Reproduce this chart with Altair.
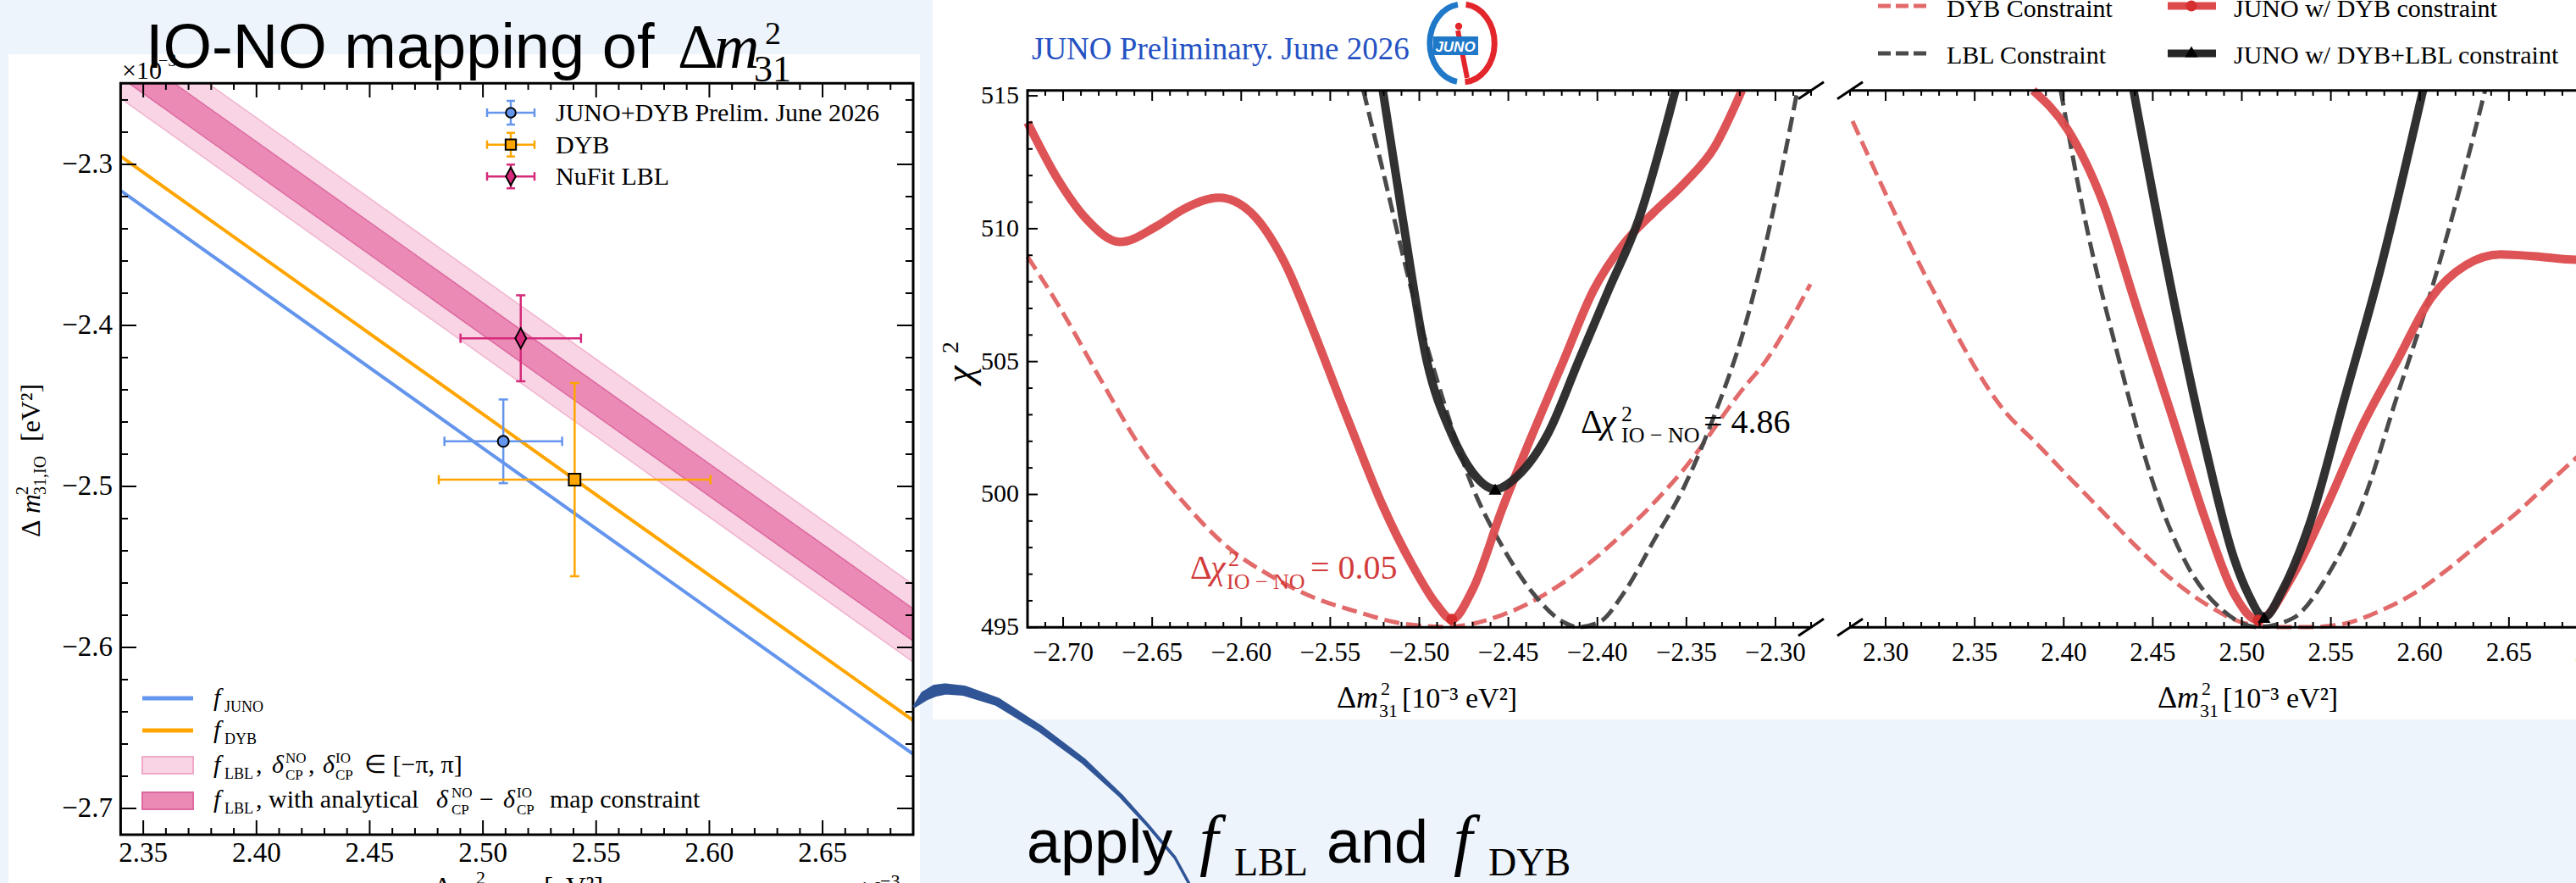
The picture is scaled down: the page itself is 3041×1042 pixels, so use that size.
import altair as alt
import numpy as np
import pandas as pd

W, H = 3041, 1042
SERIF = "Liberation Serif"
SANS = "Liberation Sans"
BG = "#edf4fb"

# ---------------- left panel data (units of 1e-3 eV^2) ----------------
line_x = [2.34, 2.69]
f_juno_y = [-2.3163, -2.6663]
f_dyb_y = [-2.2950, -2.6453]

lbl_wide_x = [2.34, 2.3785, 2.69]
lbl_wide_hi = [-2.2110, -2.2495, -2.5610]
lbl_wide_lo = [-2.2590, -2.2975, -2.6090]
lbl_map_x = [2.3436, 2.3636, 2.69]
lbl_map_hi = [-2.2296, -2.2496, -2.5760]
lbl_map_lo = [-2.2496, -2.2696, -2.5960]

pt_name = ["JUNO+DYB Prelim. June 2026", "DYB", "NuFit LBL"]
pt_x = [2.5090, 2.5405, 2.5167]
pt_y = [-2.4720, -2.4958, -2.4080]
pt_xerr = [0.0260, 0.0600, 0.0266]
pt_yerr = [0.0260, 0.0600, 0.0267]
pt_color = ["#6495ed", "#ffa500", "#d62a7a"]

L_xmajor = [2.35, 2.40, 2.45, 2.50, 2.55, 2.60, 2.65]
L_xlabels = ["2.35", "2.40", "2.45", "2.50", "2.55", "2.60", "2.65"]
L_ymajor = [-2.7, -2.6, -2.5, -2.4, -2.3]
L_ylabels = ["\u22122.7", "\u22122.6", "\u22122.5", "\u22122.4", "\u22122.3"]

# ---------------- right panel data (chi^2 curves) ----------------
io_red_x = [-2.72, -2.7029, -2.687, -2.668, -2.6473, -2.6314, -2.6124, -2.5949, -2.5759, -2.5597,
            -2.5441, -2.5379, -2.5209, -2.5040, -2.4904, -2.4818, -2.4702, -2.4532,
            -2.4362, -2.4192, -2.4022, -2.3852, -2.3681, -2.3512, -2.3343, -2.3189]
io_red_y = [514.0, 511.85, 510.37, 509.50, 510.10, 510.77, 511.17, 510.63, 508.76, 506.2,
            503.5, 502.45, 499.63, 497.35, 495.87, 495.3, 496.4, 499.5,
            502.31, 505.0, 507.68, 509.43, 510.63, 511.71, 513.06, 515.2]

io_black_x = [-2.5205, -2.5093, -2.4957, -2.4821, -2.4702, -2.4574, -2.4448, -2.4276, -2.4107,
              -2.3938, -2.3767, -2.3562]
io_black_y = [515.2, 510.37, 505.0, 502.31, 500.84, 500.2, 500.7, 502.31, 505.0, 507.68, 510.37, 515.2]

io_lbl_x = [-2.5314, -2.5212, -2.5043, -2.4871, -2.4702, -2.4532, -2.4362, -2.4192, -2.4107,
            -2.3988, -2.3852, -2.3681, -2.3512, -2.3343, -2.3171, -2.3001, -2.2900, -2.2877]
io_lbl_y = [515.2, 512.39, 507.68, 503.66, 500.3, 498.02, 496.29, 495.2, 495.01,
            495.2, 496.29, 498.29, 500.3, 502.98, 506.34, 511.04, 514.4, 515.2]

io_dyb_x = [-2.72, -2.7029, -2.679, -2.6552, -2.6314, -2.6076, -2.5838, -2.56, -2.5362, -2.51,
            -2.485, -2.4533, -2.4192, -2.3852, -2.3512, -2.3171, -2.3076, -2.2804]
io_dyb_y = [508.95, 507.15, 504.33, 501.64, 499.63, 498.02, 496.95, 496.14, 495.61, 495.15,
            495.02, 495.47, 496.68, 498.56, 500.97, 504.07, 504.83, 507.91]

no_red_x = [2.3828, 2.4022, 2.4217, 2.4411, 2.4606, 2.48, 2.4955, 2.5092, 2.5286, 2.5481,
            2.5676, 2.587, 2.6065, 2.6259, 2.6454, 2.6648, 2.6878, 2.72]
no_red_y = [515.2, 513.73, 511.04, 507.01, 502.99, 498.96, 496.28, 495.27, 496.95, 499.63,
            502.58, 505.0, 507.41, 508.63, 509.03, 508.96, 508.83, 508.9]

no_black_x = [2.4392, 2.4606, 2.48, 2.4955, 2.5034, 2.5125, 2.5229, 2.5384, 2.5579, 2.5773, 2.6017]
no_black_y = [515.2, 507.68, 501.65, 497.62, 496.28, 495.38, 496.41, 498.96, 503.66, 508.35, 515.2]

no_lbl_x = [2.3983, 2.4119, 2.4313, 2.4508, 2.4703, 2.4898, 2.5092, 2.5286, 2.5481, 2.5676,
            2.587, 2.6064, 2.6259, 2.6366]
no_lbl_y = [515.2, 510.37, 505.0, 500.3, 497.22, 495.61, 495.01, 495.34, 496.95, 499.63,
            503.66, 507.68, 512.39, 515.2]

no_dyb_x = [2.2814, 2.3257, 2.3685, 2.3828, 2.4022, 2.4217, 2.4411, 2.4606, 2.48, 2.4995,
            2.5189, 2.5384, 2.5579, 2.5773, 2.5968, 2.6163, 2.6357, 2.6552, 2.6745, 2.6878, 2.72]
no_dyb_y = [514.05, 507.8, 503.0, 502.05, 500.7, 499.36, 498.02, 496.81, 495.87, 495.2,
            495.01, 495.01, 495.14, 495.61, 496.28, 497.22, 498.29, 499.36, 500.57, 501.38, 503.3]

min_io_red = (-2.4818, 495.3)
min_io_black = (-2.4574, 500.2)
min_no_red = (2.5092, 495.27)
min_no_black = (2.5125, 495.38)

R1_xmajor = [-2.70, -2.65, -2.60, -2.55, -2.50, -2.45, -2.40, -2.35, -2.30]
R1_xlabels = ["\u22122.70", "\u22122.65", "\u22122.60", "\u22122.55", "\u22122.50", "\u22122.45",
              "\u22122.40", "\u22122.35", "\u22122.30"]
R2_xmajor = [2.30, 2.35, 2.40, 2.45, 2.50, 2.55, 2.60, 2.65, 2.70]
R2_xlabels = ["2.30", "2.35", "2.40", "2.45", "2.50", "2.55", "2.60", "2.65", "2.70"]
RY_major = [495, 500, 505, 510, 515]
RY_labels = ["495", "500", "505", "510", "515"]

# decorative connector arrow on the slide (pixel path)
arrow_px = [1080, 1092, 1104, 1116, 1138, 1177, 1228, 1279, 1323, 1355, 1387, 1405]
arrow_py = [833, 821, 815, 813, 815, 828, 860, 898, 939, 974, 1012, 1045]
arrow_w = [4, 12, 14, 13, 12, 10, 8, 7, 5, 4, 3.5, 3.5]


def minor(lo, hi, step, majors):
    vals = np.round(np.arange(lo, hi + step / 2, step), 4)
    return [float(v) for v in vals if all(abs(v - m) > 1e-6 for m in majors)]


ONE = pd.DataFrame({"a": [0]})


def sc(dom, rng, clamp=False):
    return alt.Scale(domain=dom, range=rng, nice=False, zero=False, clamp=clamp)


LX = sc([2.34, 2.69], [142.4, 1078])
LY = sc([-2.7163, -2.2496], [985, 98.2])
LYc = sc([-2.7163, -2.2496], [985, 98.2], clamp=True)
R1X = sc([-2.72, -2.28], [1213, 2138])
R2X = sc([2.28, 2.72], [2184, 3109])
RY = sc([495, 515.2], [740.3, 106.8])
PX = sc([0, W], [0, W])
PY = sc([0, H], [0, H])


def txt(s, x, y, size, font=SERIF, style="normal", color="black", align="left",
        baseline="alphabetic", angle=None, weight="normal"):
    mk = dict(font=font, fontSize=size, fontStyle=style, color=color, align=align,
              baseline=baseline, fontWeight=weight)
    if angle is not None:
        mk["angle"] = angle
    return alt.Chart(ONE).mark_text(**mk).encode(x=alt.value(x), y=alt.value(y), text=alt.value(s))


def box(x1, y1, x2, y2, fill, stroke=None, sw=0, fo=1.0):
    mk = dict(fill=fill, fillOpacity=fo)
    if stroke:
        mk.update(stroke=stroke, strokeWidth=sw)
    else:
        mk.update(strokeWidth=0)
    return alt.Chart(ONE).mark_rect(**mk).encode(
        x=alt.value(x1), x2=alt.value(x2), y=alt.value(y1), y2=alt.value(y2))


def seg(x1, y1, x2, y2, color="black", w=2.0, dash=None):
    mk = dict(color=color, strokeWidth=w)
    if dash:
        mk["strokeDash"] = dash
    return alt.Chart(ONE).mark_rule(**mk).encode(
        x=alt.value(x1), y=alt.value(y1), x2=alt.value(x2), y2=alt.value(y2))


def sym(x, y, shape, size, fill, stroke="black", sw=1.5, filled=True):
    if filled:
        mk = dict(shape=shape, size=size, filled=True, fill=fill, stroke=stroke,
                  strokeWidth=sw, opacity=1)
    else:
        mk = dict(shape=shape, size=size, filled=False, stroke=stroke, strokeWidth=sw, opacity=1)
    return alt.Chart(ONE).mark_point(**mk).encode(x=alt.value(x), y=alt.value(y))


def dsym(x, y, xs, ys, shape, size, fill, stroke="black", sw=1.5):
    return alt.Chart(pd.DataFrame({"x": [x], "y": [y]})).mark_point(
        shape=shape, size=size, filled=True, fill=fill, stroke=stroke, strokeWidth=sw, opacity=1
    ).encode(x=alt.X("x:Q", scale=xs, axis=None), y=alt.Y("y:Q", scale=ys, axis=None))


def vticks(vals, xs, y1, y2, w=2.0):
    return alt.Chart(pd.DataFrame({"v": vals})).mark_rule(color="black", strokeWidth=w).encode(
        x=alt.X("v:Q", scale=xs, axis=None), y=alt.value(y1), y2=alt.value(y2))


def hticks(vals, ys, x1, x2, w=2.0):
    return alt.Chart(pd.DataFrame({"v": vals})).mark_rule(color="black", strokeWidth=w).encode(
        y=alt.Y("v:Q", scale=ys, axis=None), x=alt.value(x1), x2=alt.value(x2))


def xlabels(vals, labels, xs, ybase, size):
    return alt.Chart(pd.DataFrame({"v": vals, "t": labels})).mark_text(
        font=SERIF, fontSize=size, align="center", baseline="alphabetic", color="black"
    ).encode(x=alt.X("v:Q", scale=xs, axis=None), y=alt.value(ybase), text="t:N")


def ylabels(vals, labels, ys, xright, size):
    return alt.Chart(pd.DataFrame({"v": vals, "t": labels})).mark_text(
        font=SERIF, fontSize=size, align="right", baseline="middle", color="black"
    ).encode(y=alt.Y("v:Q", scale=ys, axis=None), x=alt.value(xright), text="t:N")


def curve(xs, ys, xscale, color, w, dash=None, op=1.0):
    mk = dict(color=color, strokeWidth=w, interpolate="monotone", opacity=op, strokeCap="butt")
    if dash:
        mk["strokeDash"] = dash
    return alt.Chart(pd.DataFrame({"x": xs, "y": ys})).mark_line(**mk).encode(
        x=alt.X("x:Q", scale=xscale, axis=None), y=alt.Y("y:Q", scale=RY, axis=None))


layers = []
L = layers.append

# ---------------- slide backgrounds ----------------
L(box(10, 64, 1086, 1042, "white"))
L(box(1101, 0, 3041, 849, "white"))

# ---------------- left panel ----------------
def band(xs, hi, lo, fill, edge):
    df = pd.DataFrame({"x": xs, "hi": hi, "lo": lo})
    a = alt.Chart(df).mark_area(color=fill, opacity=1).encode(
        x=alt.X("x:Q", scale=LX, axis=None), y=alt.Y("hi:Q", scale=LYc, axis=None), y2="lo:Q")
    e1 = alt.Chart(df).mark_line(color=edge, strokeWidth=1.5).encode(
        x=alt.X("x:Q", scale=LX, axis=None), y=alt.Y("hi:Q", scale=LYc, axis=None))
    e2 = alt.Chart(df).mark_line(color=edge, strokeWidth=1.5).encode(
        x=alt.X("x:Q", scale=LX, axis=None), y=alt.Y("lo:Q", scale=LYc, axis=None))
    return [a, e1, e2]


for c in band(lbl_wide_x, lbl_wide_hi, lbl_wide_lo, "#f8d4e4", "#f1b3cf"):
    L(c)
for c in band(lbl_map_x, lbl_map_hi, lbl_map_lo, "#ec8ab6", "#dc6aa0"):
    L(c)

for ys, col in [(f_juno_y, "#6495ed"), (f_dyb_y, "#ffa500")]:
    L(alt.Chart(pd.DataFrame({"x": line_x, "y": ys})).mark_line(color=col, strokeWidth=4).encode(
        x=alt.X("x:Q", scale=LX, axis=None), y=alt.Y("y:Q", scale=LY, axis=None)))

marker_shapes = ["circle", "square", "M0,-1L0.55,0L0,1L-0.55,0Z"]
marker_sizes = [170, 190, 560]
for i in range(3):
    d = pd.DataFrame({"x": [pt_x[i]], "y": [pt_y[i]],
                      "xlo": [pt_x[i] - pt_xerr[i]], "xhi": [pt_x[i] + pt_xerr[i]],
                      "ylo": [pt_y[i] - pt_yerr[i]], "yhi": [pt_y[i] + pt_yerr[i]]})
    col = pt_color[i]
    base = alt.Chart(d)
    L(base.mark_rule(color=col, strokeWidth=2.5).encode(
        x=alt.X("xlo:Q", scale=LX, axis=None), x2="xhi:Q", y=alt.Y("y:Q", scale=LY, axis=None)))
    L(base.mark_rule(color=col, strokeWidth=2.5).encode(
        x=alt.X("x:Q", scale=LX, axis=None), y=alt.Y("ylo:Q", scale=LY, axis=None), y2="yhi:Q"))
    for fx in ["xlo", "xhi"]:
        L(base.mark_point(shape="M0,-1L0,1", size=121, color=col, strokeWidth=2.5, opacity=1).encode(
            x=alt.X(f"{fx}:Q", scale=LX, axis=None), y=alt.Y("y:Q", scale=LY, axis=None)))
    for fy in ["ylo", "yhi"]:
        L(base.mark_point(shape="M-1,0L1,0", size=121, color=col, strokeWidth=2.5, opacity=1).encode(
            x=alt.X("x:Q", scale=LX, axis=None), y=alt.Y(f"{fy}:Q", scale=LY, axis=None)))
    L(dsym(pt_x[i], pt_y[i], LX, LY, marker_shapes[i], marker_sizes[i], col, "black", 2))

# frame, ticks, labels
L(box(142.4, 98.2, 1078, 985, "white", stroke="black", sw=3, fo=0))
L_xminor = minor(2.34, 2.69, 0.01, L_xmajor)
L_yminor = minor(-2.70, -2.26, 0.02, L_ymajor)
L(vticks(L_xmajor, LX, 985, 968))
L(vticks(L_xmajor, LX, 98.2, 115))
L(vticks(L_xminor, LX, 985, 977))
L(vticks(L_xminor, LX, 98.2, 106))
L(hticks(L_ymajor, LY, 142.4, 161))
L(hticks(L_ymajor, LY, 1078, 1059))
L(hticks(L_yminor, LY, 142.4, 151))
L(hticks(L_yminor, LY, 1078, 1069))
L(xlabels(L_xmajor, L_xlabels, LX, 1017, 33))
L(ylabels(L_ymajor, L_ylabels, LY, 133, 33))

# axis titles / offsets
L(txt("\u00d710", 144, 93, 30))
L(txt("\u22123", 187, 78, 20))
L(txt("\u00d710", 993, 1063, 33))
L(txt("\u22123", 1039, 1047, 22))
L(txt("\u0394", 512, 1058, 33))
L(txt("m", 535, 1058, 33, style="italic"))
L(txt("2", 562, 1043, 22))
L(txt("31,NO", 560, 1068, 22))
L(txt("[eV\u00b2]", 642, 1058, 33))
L(txt("\u0394", 47, 634, 32, angle=270))
L(txt("m", 47, 606, 32, style="italic", angle=270))
L(txt("2", 33, 584, 20, angle=270))
L(txt("31,IO", 54, 584, 20, angle=270))
L(txt("[eV\u00b2]", 47, 521, 32, angle=270))

# top-right legend
leg_rows = [133.0, 170.7, 208.2]
leg_base = [143, 180.5, 218]
for i in range(3):
    y0 = leg_rows[i]
    col = pt_color[i]
    L(seg(575, y0, 631, y0, col, 2.5))
    L(seg(603, y0 - 14, 603, y0 + 14, col, 2.5))
    L(seg(575, y0 - 5, 575, y0 + 5, col, 2.5))
    L(seg(631, y0 - 5, 631, y0 + 5, col, 2.5))
    L(seg(598, y0 - 14, 608, y0 - 14, col, 2.5))
    L(seg(598, y0 + 14, 608, y0 + 14, col, 2.5))
    L(sym(603, y0, marker_shapes[i], marker_sizes[i] * 0.8, col, "black", 2))
    L(txt(pt_name[i], 656, leg_base[i], 30))

# bottom-left legend
L(seg(168, 824, 228, 824, "#6495ed", 5))
L(txt("f", 252, 833, 30, style="italic"))
L(txt("JUNO", 265, 840, 18))
L(seg(168, 862, 228, 862, "#ffa500", 5))
L(txt("f", 252, 871, 30, style="italic"))
L(txt("DYB", 265, 878, 18))
L(box(168, 893, 228, 913, "#f8d4e4", stroke="#f0a9c8", sw=2))
L(txt("f", 252, 912, 30, style="italic"))
L(txt("LBL", 265, 919, 18))
L(txt(",", 302, 912, 30))
L(txt("\u03b4", 321, 912, 30, style="italic"))
L(txt("NO", 337, 900, 17))
L(txt("CP", 337, 920, 17))
L(txt(",", 364, 912, 30))
L(txt("\u03b4", 381, 912, 30, style="italic"))
L(txt("IO", 396, 900, 17))
L(txt("CP", 396, 920, 17))
L(txt("\u2208 [\u2212\u03c0, \u03c0]", 430, 912, 30))
L(box(168, 935, 228, 955, "#ec8ab6", stroke="#dc6aa0", sw=2))
L(txt("f", 252, 953, 30, style="italic"))
L(txt("LBL", 265, 960, 18))
L(txt(", with analytical", 302, 953, 30))
L(txt("\u03b4", 515, 953, 30, style="italic"))
L(txt("NO", 533, 941, 17))
L(txt("CP", 533, 961, 17))
L(txt("\u2212", 566, 953, 30))
L(txt("\u03b4", 594, 953, 30, style="italic"))
L(txt("IO", 610, 941, 17))
L(txt("CP", 610, 961, 17))
L(txt("map constraint", 649, 953, 30))

# ---------------- right panel ----------------
RED = "#dc4a4c"
RED_D = "#e26a6a"
BLK = "#262626"
GRY = "#4a4a4a"
DASH = [18, 8]

L(curve(io_dyb_x, io_dyb_y, R1X, RED_D, 5, DASH))
L(curve(no_dyb_x, no_dyb_y, R2X, RED_D, 5, DASH))
L(curve(io_lbl_x, io_lbl_y, R1X, GRY, 5, DASH))
L(curve(no_lbl_x, no_lbl_y, R2X, GRY, 5, DASH))
L(curve(io_red_x, io_red_y, R1X, RED, 10, op=0.95))
L(curve(no_red_x, no_red_y, R2X, RED, 10, op=0.95))
L(curve(io_black_x, io_black_y, R1X, BLK, 10, op=0.95))
L(curve(no_black_x, no_black_y, R2X, BLK, 10, op=0.95))
L(dsym(min_io_red[0], min_io_red[1], R1X, RY, "circle", 170, "#d62f2f", "#d62f2f", 0))
L(dsym(min_no_red[0], min_no_red[1], R2X, RY, "circle", 170, "#d62f2f", "#d62f2f", 0))
L(dsym(min_io_black[0], min_io_black[1], R1X, RY, "triangle-up", 230, "black", "black", 0))
L(dsym(min_no_black[0], min_no_black[1], R2X, RY, "triangle-up", 230, "black", "black", 0))

# spines
L(seg(1213, 105.3, 1213, 741.8, "black", 3))
L(seg(1213, 106.8, 2138, 106.8, "black", 3))
L(seg(1213, 740.3, 2138, 740.3, "black", 3))
L(seg(2184, 106.8, 3041, 106.8, "black", 3))
L(seg(2184, 740.3, 3041, 740.3, "black", 3))
for bx in [2138, 2184]:
    for by in [106.8, 740.3]:
        L(seg(bx - 15, by + 10, bx + 15, by - 10, "black", 3))

R1_xminor = minor(-2.72, -2.28, 0.01, R1_xmajor)
R2_xminor = minor(2.28, 2.72, 0.01, R2_xmajor)
RY_minor = minor(495, 515, 1, RY_major)
for xs, maj, mnr in [(R1X, R1_xmajor, R1_xminor), (R2X, R2_xmajor, R2_xminor)]:
    L(vticks(maj, xs, 740.3, 728))
    L(vticks(maj, xs, 106.8, 119))
    L(vticks(mnr, xs, 740.3, 734))
    L(vticks(mnr, xs, 106.8, 113))
L(hticks(RY_major, RY, 1213, 1225))
L(hticks(RY_minor, RY, 1213, 1219))
L(xlabels(R1_xmajor, R1_xlabels, R1X, 780, 31))
L(xlabels(R2_xmajor, R2_xlabels, R2X, 780, 31))
L(ylabels(RY_major, RY_labels, RY, 1203, 30))

# axis titles
for dx in [0, 969]:
    L(txt("\u0394", 1578 + dx, 835, 36))
    L(txt("m", 1601 + dx, 835, 36, style="italic"))
    L(txt("2", 1630 + dx, 820, 22))
    L(txt("31", 1628 + dx, 846, 22))
    L(txt("[10\u207b\u00b3 eV\u00b2]", 1655 + dx, 835, 34))
L(txt("\u03c7", 1148, 452, 46, style="italic", angle=270))
L(txt("2", 1131, 417, 28, angle=270))

# annotations
L(txt("\u0394", 1866, 511, 40))
L(txt("\u03c7", 1890, 511, 40, style="italic"))
L(txt("2", 1914, 497, 26))
L(txt("IO \u2212 NO", 1914, 522, 26))
L(txt("= 4.86", 2011, 511, 40))
ACOL = "#d33c3c"
L(txt("\u0394", 1405, 683, 40, color=ACOL))
L(txt("\u03c7", 1429, 683, 40, style="italic", color=ACOL))
L(txt("2", 1450, 668, 26, color=ACOL))
L(txt("IO \u2212 NO", 1448, 695, 26, color=ACOL))
L(txt("= 0.05", 1547, 683, 40, color=ACOL))

# legend (top right)
L(seg(2217, 7, 2274, 7, RED_D, 5, [15, 6]))
L(txt("DYB Constraint", 2298, 20, 30))
L(seg(2217, 63, 2274, 63, GRY, 5, [15, 6]))
L(txt("LBL  Constraint", 2298, 75, 30))
L(seg(2559, 7, 2616, 7, RED, 9))
L(sym(2587, 7, "circle", 170, "#d62f2f", "#d62f2f", 0))
L(txt("JUNO w/ DYB constraint", 2637, 20, 30))
L(seg(2559, 63, 2616, 63, BLK, 9))
L(sym(2587, 61, "triangle-up", 230, "black", "black", 0))
L(txt("JUNO w/ DYB+LBL constraint", 2637, 75, 30))

# JUNO preliminary label and logo
L(txt("JUNO Preliminary. June 2026", 1218, 70, 37, color="#2451c2"))
L(sym(1726, 51, "M-0.131,0.987A0.83,1,0,0,1,-0.11,-0.991", 8464, None, "#1f78c8", 7, filled=False))
L(sym(1726, 51, "M0.1,-0.993A0.83,1,0,0,1,0.076,0.996", 8464, None, "#e3262b", 7, filled=False))
L(seg(1721, 36, 1732, 92, "#e3262b", 6))
L(sym(1722, 31, "circle", 70, "#e3262b", "#e3262b", 0))
L(box(1692, 43, 1745, 65, "#1f78c8"))
L(txt("JUNO", 1718, 61, 17, font=SANS, style="italic", color="white", align="center", weight="bold"))

# ---------------- slide texts ----------------
L(alt.Chart(pd.DataFrame({"x": arrow_px, "y": arrow_py, "w": arrow_w, "i": list(range(len(arrow_px)))}))
  .mark_trail(color="#2f5597").encode(
      x=alt.X("x:Q", scale=PX, axis=None), y=alt.Y("y:Q", scale=PY, axis=None),
      size=alt.Size("w:Q", scale=None, legend=None), order="i:Q"))

L(txt("IO-NO mapping of", 172, 80, 74, font=SANS))
L(txt("\u0394", 800, 80, 74))
L(txt("m", 843, 80, 74, style="italic"))
L(txt("2", 903, 52, 38))
L(txt("31", 890, 96, 44))

L(txt("apply", 1212, 1018, 72, font=SANS))
L(txt("f", 1416, 1018, 80, style="italic"))
L(txt("LBL", 1457, 1033, 46))
L(txt("and", 1566, 1018, 72, font=SANS))
L(txt("f", 1716, 1018, 80, style="italic"))
L(txt("DYB", 1757, 1033, 46))

chart = alt.layer(*layers).resolve_scale(x="independent", y="independent").properties(
    width=W, height=H, padding=0, autosize=alt.AutoSizeParams(type="none"), background=BG
).configure_view(strokeWidth=0)

chart.save("out.html", embed_options={"renderer": "svg", "actions": False})
